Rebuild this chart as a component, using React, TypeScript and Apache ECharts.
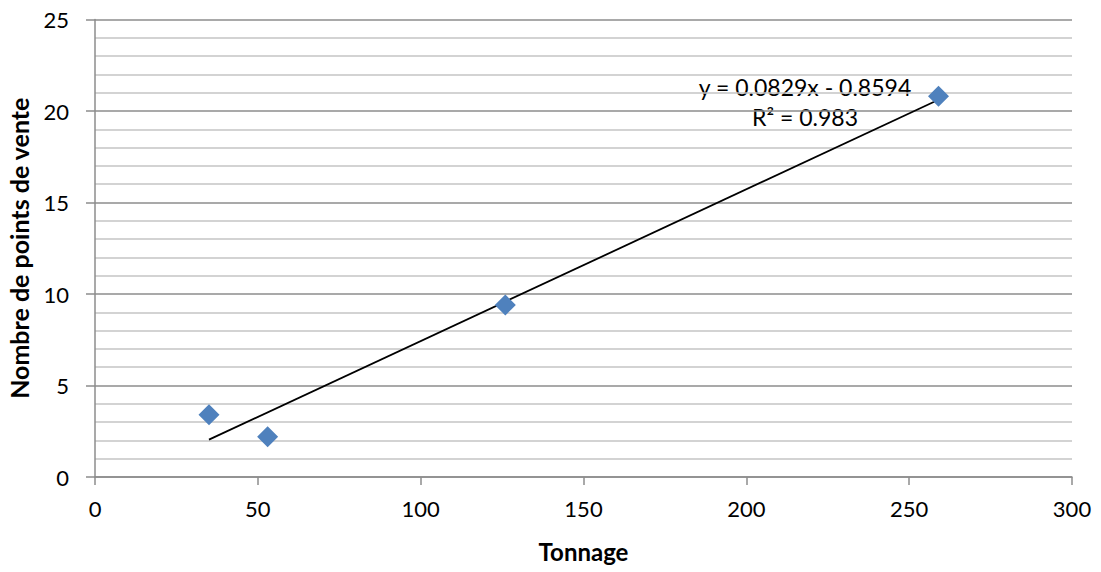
import React, { useEffect, useRef } from "react";
import * as echarts from "echarts";

const tonnage = [35, 53, 126, 259];
const pointsDeVente = [3.4, 2.2, 9.4, 20.8];
const trendSlope = 0.0829;
const trendIntercept = -0.8594;
const rSquared = 0.983;
const xTitle = "Tonnage";
const yTitle = "Nombre de points de vente";

const FONT = "Lato";

export default function App() {
  const ref = useRef<HTMLDivElement>(null);
  useEffect(() => {
    if (!ref.current) return;
    const chart = echarts.init(ref.current, null, { renderer: "svg" });
    const xMin = Math.min(...tonnage);
    const xMax = Math.max(...tonnage);
    const trend = [
      [xMin, trendSlope * xMin + trendIntercept],
      [xMax, trendSlope * xMax + trendIntercept],
    ];
    const scatter = tonnage.map((x, i) => [x, pointsDeVente[i]]);
    chart.setOption({
      animation: false,
      backgroundColor: "#ffffff",
      textStyle: { fontFamily: FONT },
      grid: {
        left: 95,
        right: 29,
        top: 19.5,
        bottom: 95,
        containLabel: false,
        outerBoundsMode: "none",
      },
      xAxis: {
        type: "value",
        min: 0,
        max: 300,
        interval: 50,
        name: xTitle,
        nameLocation: "middle",
        nameGap: 62,
        nameTextStyle: { fontFamily: FONT, fontWeight: "bold", fontSize: 24, color: "#000" },
        axisLine: { show: true, onZero: false, lineStyle: { color: "#8c8c8c", width: 1.5 } },
        axisTick: { show: true, length: 8, lineStyle: { color: "#8c8c8c", width: 1.5 } },
        axisLabel: { fontFamily: FONT, fontSize: 22, color: "#000", margin: 20 },
        splitLine: { show: false },
      },
      yAxis: {
        type: "value",
        min: 0,
        max: 25,
        interval: 5,
        name: yTitle,
        nameLocation: "middle",
        nameGap: 64,
        nameRotate: 90,
        nameTextStyle: { fontFamily: FONT, fontWeight: "bold", fontSize: 25, color: "#000" },
        axisLine: { show: true, lineStyle: { color: "#8c8c8c", width: 1.5 } },
        axisTick: { show: true, length: 9, lineStyle: { color: "#8c8c8c", width: 1.5 } },
        axisLabel: { fontFamily: FONT, fontSize: 22, color: "#000", margin: 26 },
        splitLine: { show: true, lineStyle: { color: "#8c8c8c", width: 1.5 } },
        minorTick: { show: false, splitNumber: 5 },
        minorSplitLine: { show: true, lineStyle: { color: "#c4c4c4", width: 1.5 } },
      },
      series: [
        {
          type: "line",
          data: trend,
          symbol: "none",
          lineStyle: { color: "#000", width: 1.8 },
          z: 3,
        },
        {
          type: "scatter",
          data: scatter,
          symbol: "diamond",
          symbolSize: 21,
          itemStyle: { color: "#4f81bd", opacity: 1 },
          z: 4,
        },
      ],
      graphic: [
        {
          type: "text",
          x: 805,
          y: 72,
          style: {
            text: `y = ${trendSlope}x - ${Math.abs(trendIntercept)}\nR² = ${rSquared}`,
            fontFamily: FONT,
            fontSize: 23,
            lineHeight: 30,
            align: "center",
            verticalAlign: "top",
            fill: "#000",
          },
        },
      ],
    });
    return () => chart.dispose();
  }, []);
  return (
    <div
      ref={ref}
      style={{ position: "fixed", left: 0, top: 0, width: 1101, height: 572 }}
    />
  );
}
